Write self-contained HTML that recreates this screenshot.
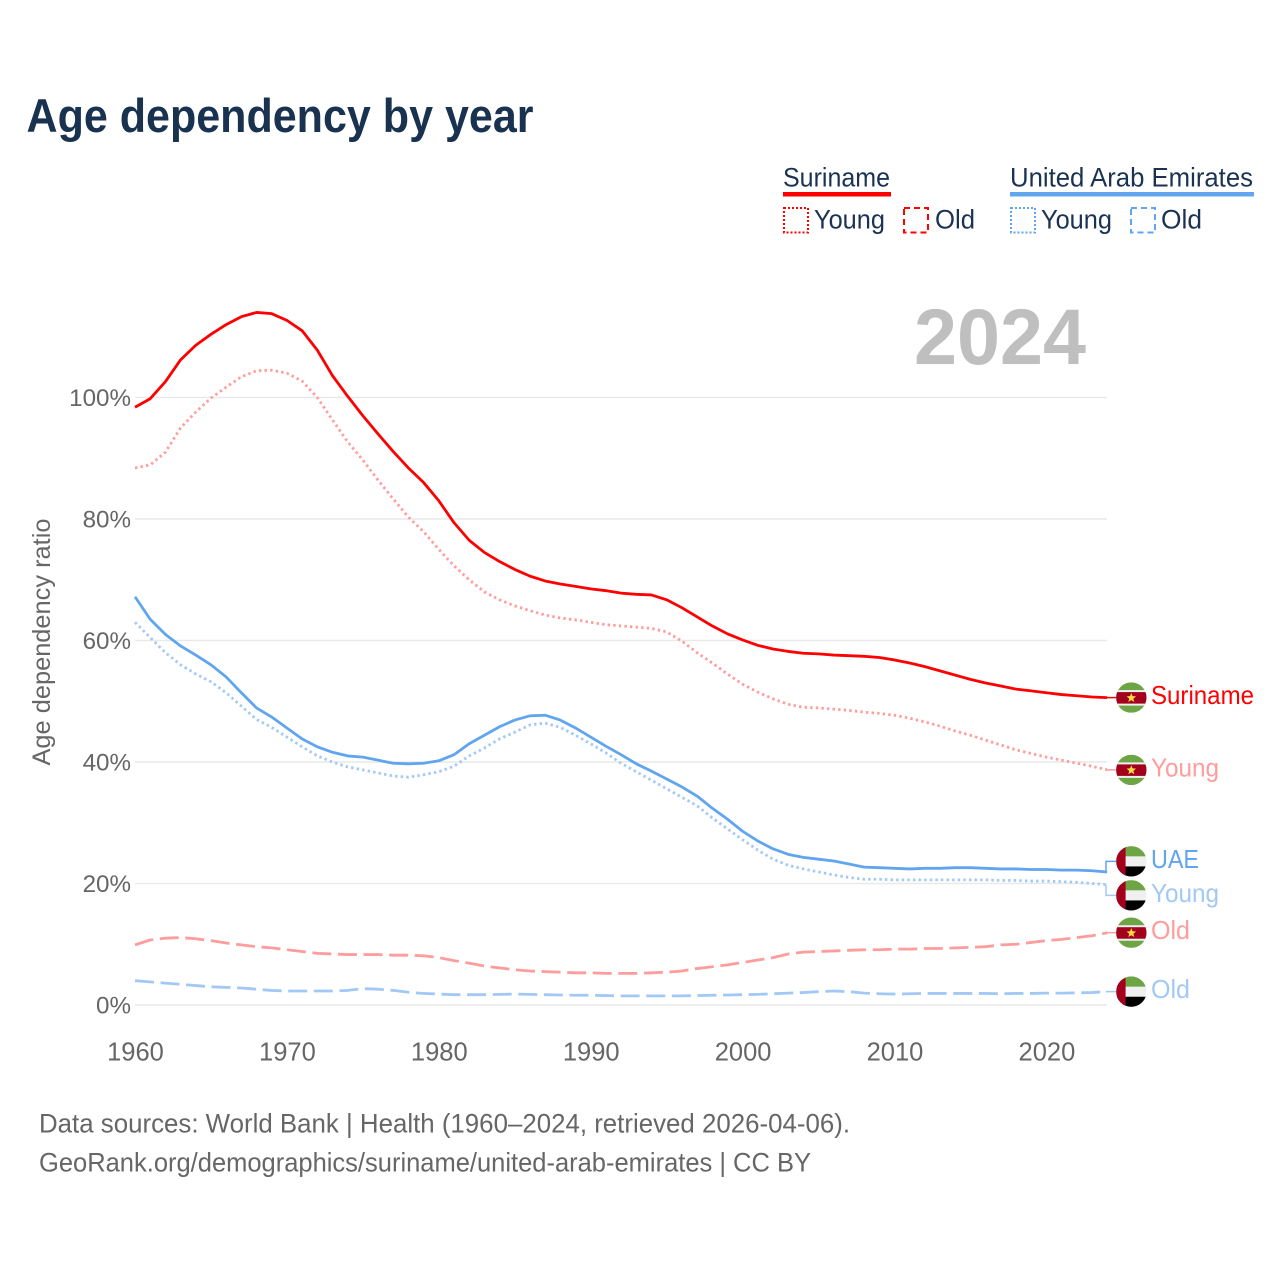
<!DOCTYPE html>
<html lang="en">
<head>
<meta charset="utf-8">
<title>Age dependency by year</title>
<style>
html,body{margin:0;padding:0;background:#fff;}
svg{display:block;font-family:"Liberation Sans",sans-serif;}
.legend-text{font-size:27px;fill:#1a3352;}
.source{font-size:26.5px;fill:#666;}
</style>
</head>
<body>
<svg id="chart" xmlns="http://www.w3.org/2000/svg" width="1280" height="1280" viewBox="0 0 1280 1280">
  <rect x="0" y="0" width="1280" height="1280" fill="#fff"/>
  <text x="26.5" y="132" font-size="47" font-weight="700" fill="#18324f" textLength="507" lengthAdjust="spacingAndGlyphs">Age dependency by year</text>

  <g>
    <g>
      <text class="legend-text" x="783" y="186.5" textLength="107" lengthAdjust="spacingAndGlyphs">Suriname</text>
      <rect x="783" y="192" width="108" height="4.5" fill="#ff0000"/>
      <rect x="784" y="208" width="24" height="24.5" fill="none" stroke="#ff0000" stroke-width="2" stroke-dasharray="2 2"/>
      <text class="legend-text" x="814" y="228.5" textLength="71" lengthAdjust="spacingAndGlyphs">Young</text>
      <rect x="904" y="208" width="24" height="24.5" fill="none" stroke="#ff0000" stroke-width="2" stroke-dasharray="6 4"/>
      <text class="legend-text" x="935" y="228.5" textLength="40" lengthAdjust="spacingAndGlyphs">Old</text>
    </g>
    <g>
      <text class="legend-text" x="1010" y="186.5" textLength="243" lengthAdjust="spacingAndGlyphs">United Arab Emirates</text>
      <rect x="1010" y="192" width="244" height="4.5" fill="#60a5ee"/>
      <rect x="1011" y="208" width="24" height="24.5" fill="none" stroke="#60a5ee" stroke-width="2" stroke-dasharray="2 2"/>
      <text class="legend-text" x="1041" y="228.5" textLength="71" lengthAdjust="spacingAndGlyphs">Young</text>
      <rect x="1131" y="208" width="24" height="24.5" fill="none" stroke="#60a5ee" stroke-width="2" stroke-dasharray="6 4"/>
      <text class="legend-text" x="1161" y="228.5" textLength="41" lengthAdjust="spacingAndGlyphs">Old</text>
    </g>
  </g>

  <g id="grid"></g>
  <g id="yticks"></g>
  <g id="xticks"></g>
  <text transform="translate(50 642) rotate(-90)" text-anchor="middle" font-size="25" fill="#666" textLength="247" lengthAdjust="spacingAndGlyphs">Age dependency ratio</text>
  <text x="914" y="364" font-size="79" font-weight="700" fill="#bfbfbf" textLength="172" lengthAdjust="spacingAndGlyphs">2024</text>

  <g id="series"></g>
  <g id="end-labels"></g>

  <g>
    <text class="source" x="39" y="1132.5" textLength="811" lengthAdjust="spacingAndGlyphs">Data sources: World Bank | Health (1960–2024, retrieved 2026-04-06).</text>
    <text class="source" x="39" y="1171.5" textLength="772" lengthAdjust="spacingAndGlyphs">GeoRank.org/demographics/suriname/united-arab-emirates | CC BY</text>
  </g>
</svg>

<script>
const firstYear = 1960;
const xTickLabels = [1960, 1970, 1980, 1990, 2000, 2010, 2020];
const yTickValues = [0, 20, 40, 60, 80, 100];

const surinameTotal = [98.4,99.8,102.6,106.2,108.6,110.4,112,113.3,114,113.8,112.7,111,107.8,103.6,100.2,97,94,91.1,88.4,86,83,79.4,76.5,74.5,73,71.7,70.6,69.8,69.3,68.9,68.5,68.2,67.8,67.6,67.5,66.7,65.4,63.9,62.4,61.1,60.1,59.2,58.6,58.2,57.9,57.8,57.6,57.5,57.4,57.2,56.8,56.3,55.7,55,54.3,53.6,53,52.5,52,51.7,51.4,51.1,50.9,50.7,50.6];
const surinameYoung = [88.4,88.9,91,95,97.6,99.9,101.7,103.4,104.4,104.5,104,102.7,100,96.3,92.7,89.7,86.4,83.3,80.3,77.9,75,72.3,70,68,66.7,65.7,64.9,64.2,63.7,63.4,63,62.6,62.4,62.2,62,61.4,59.9,58,56.3,54.5,52.8,51.5,50.4,49.5,49,48.9,48.7,48.5,48.2,48,47.7,47.2,46.6,45.9,45.1,44.4,43.6,42.8,42,41.4,40.8,40.3,39.8,39.3,38.7];
const surinameOld = [9.9,10.7,11,11.1,10.9,10.6,10.2,9.9,9.6,9.4,9.1,8.8,8.5,8.4,8.3,8.3,8.3,8.2,8.2,8.1,7.8,7.3,6.9,6.4,6.1,5.8,5.6,5.5,5.4,5.3,5.3,5.2,5.2,5.2,5.3,5.4,5.6,6,6.3,6.6,7,7.4,7.8,8.4,8.7,8.8,8.9,9,9.1,9.1,9.2,9.2,9.3,9.3,9.4,9.5,9.6,9.9,10,10.3,10.6,10.8,11.1,11.4,11.9];
const uaeTotal = [67.2,63.5,61,59.1,57.6,56,54,51.4,48.9,47.4,45.6,43.8,42.5,41.6,41,40.8,40.3,39.8,39.7,39.8,40.2,41.2,43,44.4,45.8,46.9,47.6,47.7,46.9,45.6,44.1,42.6,41.2,39.7,38.5,37.2,35.9,34.4,32.4,30.6,28.6,27,25.7,24.8,24.3,24,23.7,23.2,22.7,22.6,22.5,22.4,22.5,22.5,22.6,22.6,22.5,22.4,22.4,22.3,22.3,22.2,22.2,22.1,21.9];
const uaeYoung = [63,60.5,58,56,54.5,53.2,51.4,49.2,47,45.7,44.1,42.5,41,40,39.2,38.7,38.2,37.7,37.5,37.9,38.4,39.3,41,42.3,43.8,44.9,46.1,46.4,45.7,44.4,43,41.5,39.8,38.4,37,35.6,34.2,32.8,30.8,29,27.2,25.5,24,23,22.4,21.9,21.4,21,20.7,20.7,20.6,20.6,20.6,20.6,20.6,20.6,20.6,20.5,20.5,20.4,20.4,20.3,20.2,20,19.8];
const uaeOld = [4,3.8,3.6,3.4,3.2,3,2.9,2.8,2.6,2.4,2.3,2.3,2.3,2.3,2.4,2.7,2.6,2.4,2.1,1.9,1.8,1.7,1.7,1.7,1.75,1.8,1.75,1.7,1.65,1.6,1.6,1.55,1.5,1.5,1.5,1.5,1.5,1.55,1.6,1.65,1.7,1.75,1.85,1.95,2.05,2.2,2.3,2.2,1.95,1.85,1.8,1.85,1.9,1.9,1.9,1.9,1.9,1.85,1.9,1.9,1.95,1.95,2,2.05,2.2];

const NS = 'http://www.w3.org/2000/svg';
const xScale = year => 135 + (year - 1960) * 15.19;
const yScale = value => 1005 - value * 6.075;

function make(tag, attrs, parent) {
  const el = document.createElementNS(NS, tag);
  for (const k in attrs) el.setAttribute(k, attrs[k]);
  parent.appendChild(el);
  return el;
}

const grid = document.getElementById('grid');
const yticks = document.getElementById('yticks');
yTickValues.forEach(v => {
  const line = make('line', {x1: 135, x2: 1107, y1: yScale(v), y2: yScale(v), stroke: '#e9e9e9', 'stroke-width': 1.4}, grid);
  
  
  const t = make('text', {x: 131, y: yScale(v) + 8.5, 'text-anchor': 'end', 'font-size': 24.2, fill: '#666'}, yticks);
  
  
  t.textContent = v + '%';
});

const xticks = document.getElementById('xticks');
xTickLabels.forEach(y => {
  const t = make('text', {x: xScale(y) + 0.5, y: 1060.5, 'text-anchor': 'middle', 'font-size': 25.5, fill: '#666'}, xticks);
  
  
  t.textContent = y;
});

const RED = '#ff0000', RED_PALE = '#ff9c9c', BLUE = '#60a5ee', BLUE_PALE = '#a2c9f5';
const DOT = '2.4 3.2', DASH = '19 6.6';
const seriesList = [
  {name: 'uae-old', values: uaeOld, color: BLUE_PALE, dash: DASH, label: 'Old', flag: 'uae', w: 39},
  {name: 'suriname-old', values: surinameOld, color: RED_PALE, dash: DASH, label: 'Old', flag: 'sr', w: 39},
  {name: 'uae-young', values: uaeYoung, color: BLUE_PALE, dash: DOT, label: 'Young', flag: 'uae', w: 68},
  {name: 'suriname-young', values: surinameYoung, color: RED_PALE, dash: DOT, label: 'Young', flag: 'sr', w: 68},
  {name: 'uae-total', values: uaeTotal, color: BLUE, dash: null, label: 'UAE', flag: 'uae', w: 48},
  {name: 'suriname-total', values: surinameTotal, color: RED, dash: null, label: 'Suriname', flag: 'sr', w: 103}
];

const seriesGroup = document.getElementById('series');
seriesList.forEach(s => {
  const pts = s.values.map((v, i) => xScale(firstYear + i).toFixed(2) + ',' + yScale(v).toFixed(2)).join(' ');
  const attrs = {points: pts, fill: 'none', stroke: s.color, 'stroke-width': 2.8, 'stroke-linejoin': 'round'};
  if (s.dash) attrs['stroke-dasharray'] = s.dash;
  const line = make('polyline', attrs, seriesGroup);
  
  
});

/* end labels: spread apart so the flags do not collide */
const MIN_GAP = 34;
const ordered = seriesList.map(s => {
  const endY = yScale(s.values[s.values.length - 1]);
  return {s, endY, y: endY};
}).sort((a, b) => a.endY - b.endY);
for (let pass = 0; pass < 20; pass++) {
  for (let i = 1; i < ordered.length; i++) {
    const gap = ordered[i].y - ordered[i - 1].y;
    if (gap < MIN_GAP) {
      const push = (MIN_GAP - gap) / 2;
      ordered[i].y += push;
      ordered[i - 1].y -= push;
    }
  }
}

function drawFlag(kind, cx, cy, parent, idx) {
  const r = 15.2;
  const clipId = 'flag-clip-' + idx;
  const clip = make('clipPath', {id: clipId}, parent);
  make('circle', {cx, cy, r}, clip);
  const g = make('g', {'clip-path': 'url(#' + clipId + ')'}, parent);
  
  
  const L = cx - r, T = cy - r, D = 2 * r;
  if (kind === 'sr') {
    make('rect', {x: L, y: T, width: D, height: D, fill: '#6da544'}, g);
    make('rect', {x: L, y: cy - 7.5, width: D, height: 15.5, fill: '#f0f0f0'}, g);
    make('rect', {x: L, y: cy - 5.5, width: D, height: 11.5, fill: '#a2001d'}, g);
    const star = [];
    for (let i = 0; i < 10; i++) {
      const a = -Math.PI / 2 + i * Math.PI / 5, rad = i % 2 ? 2.2 : 5;
      star.push((cx + rad * Math.cos(a)).toFixed(2) + ',' + (cy + 0.3 + rad * Math.sin(a)).toFixed(2));
    }
    make('polygon', {points: star.join(' '), fill: '#ffda44'}, g);
  } else {
    make('rect', {x: L, y: T, width: D, height: D, fill: '#f0f0f0'}, g);
    make('rect', {x: L, y: T, width: D, height: 10.2, fill: '#6da544'}, g);
    make('rect', {x: L, y: T + 20.3, width: D, height: 10.2, fill: '#000'}, g);
    make('rect', {x: L, y: T, width: 9.5, height: D, fill: '#a2001d'}, g);
  }
}

const endLabels = document.getElementById('end-labels');
ordered.forEach((o, idx) => {
  const s = o.s;
  const ex = 1106, tip = 1116;
  const d = Math.abs(o.y - o.endY) < 1
    ? 'M' + ex + ' ' + o.endY + 'L' + tip + ' ' + o.y
    : 'M' + ex + ' ' + o.endY + 'L' + ex + ' ' + o.y + 'L' + tip + ' ' + o.y;
  const conn = make('path', {d, fill: 'none', stroke: s.color, 'stroke-width': 1.5}, endLabels);
  
  
  drawFlag(s.flag, 1131.3, o.y, endLabels, idx);
  const t = make('text', {x: 1151, y: o.y + 6.5, 'font-size': 26, fill: s.color, textLength: s.w, lengthAdjust: 'spacingAndGlyphs'}, endLabels);
  
  
  t.textContent = s.label;
});
</script>
</body>
</html>
